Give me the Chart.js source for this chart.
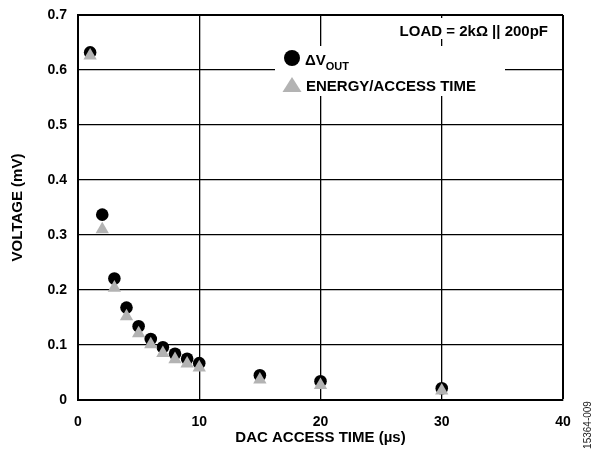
<!DOCTYPE html>
<html>
<head>
<meta charset="utf-8">
<script src="https://cdn.jsdelivr.net/npm/chart.js@4.4.1/dist/chart.umd.min.js"></script>
<style>
  html, body { margin: 0; padding: 0; background: #fff; }
</style>
</head>
<body>
<canvas id="chartAccess" width="600" height="450"></canvas>
<script>
// access time (µs) and the two measured curves (mV)
const accessTimes = [1, 2, 3, 4, 5, 6, 7, 8, 9, 10, 15, 20, 30];
const deltaVout = [0.632, 0.337, 0.221, 0.168, 0.134, 0.111, 0.096, 0.084, 0.075, 0.067, 0.045, 0.034, 0.0215];
const energyPerAccess = [0.626, 0.31, 0.204, 0.152, 0.121, 0.101, 0.085, 0.074, 0.066, 0.059, 0.037, 0.027, 0.017];
const xTicks = [0, 10, 20, 30, 40];
const yTicks = [0, 0.1, 0.2, 0.3, 0.4, 0.5, 0.6, 0.7];

const FONT = "'Liberation Sans', Arial, Helvetica, sans-serif";
const GREY = "#b3b3b3";

function toPoints(values) {
  return accessTimes.map((t, i) => ({ x: t, y: values[i] }));
}

// white legend panels with the load note, drawn over the grid
const legendPanel = {
  id: "legendPanel",
  afterDraw(chart) {
    const { ctx, chartArea: a } = chart;
    ctx.save();
    ctx.fillStyle = "#fff";
    ctx.fillRect(a.left + 307, a.top + 3, 172, 21);
    ctx.fillRect(a.left + 197, a.top + 31, 230, 50);

    ctx.fillStyle = "#000";
    ctx.font = "bold 15px " + FONT;
    ctx.textAlign = "right";
    ctx.textBaseline = "alphabetic";
    ctx.fillText("LOAD = 2kΩ || 200pF", a.left + 470, a.top + 21);

    // circle entry
    const lx = a.left + 214;
    ctx.beginPath();
    ctx.arc(lx, a.top + 43, 8, 0, Math.PI * 2);
    ctx.fill();
    ctx.textAlign = "left";
    ctx.font = "bold 15px " + FONT;
    ctx.fillText("ΔV", a.left + 227, a.top + 50);
    const w = ctx.measureText("ΔV").width;
    ctx.font = "bold 11px " + FONT;
    ctx.fillText("OUT", a.left + 227 + w, a.top + 55);

    // triangle entry
    ctx.fillStyle = GREY;
    ctx.beginPath();
    ctx.moveTo(lx, a.top + 62);
    ctx.lineTo(lx + 9.5, a.top + 77);
    ctx.lineTo(lx - 9.5, a.top + 77);
    ctx.closePath();
    ctx.fill();
    ctx.fillStyle = "#000";
    ctx.font = "bold 15px " + FONT;
    ctx.fillText("ENERGY/ACCESS TIME", a.left + 228, a.top + 76);

    // figure number on the right margin
    ctx.translate(588, 425);
    ctx.rotate(-Math.PI / 2);
    ctx.font = "10px " + FONT;
    ctx.textAlign = "center";
    ctx.textBaseline = "middle";
    ctx.fillStyle = "#222";
    ctx.fillText("15364-009", 0, 0);
    ctx.restore();
  }
};

function edgeWidth(scaleMax) {
  return (c) => (c.tick && c.tick.value === scaleMax ? 2 : 1.3);
}

new Chart(document.getElementById("chartAccess"), {
  type: "scatter",
  data: {
    datasets: [
      {
        label: "ΔVOUT",
        data: toPoints(deltaVout),
        pointStyle: "circle",
        pointRadius: 6.3,
        pointBorderWidth: 0,
        backgroundColor: "#000",
        borderColor: "#000",
        order: 1
      },
      {
        label: "ENERGY/ACCESS TIME",
        data: toPoints(energyPerAccess),
        pointStyle: "triangle",
        pointRadius: 7.7,
        pointBorderWidth: 0,
        backgroundColor: GREY,
        borderColor: GREY,
        order: 0
      }
    ]
  },
  options: {
    responsive: false,
    animation: false,
    layout: { padding: { top: 15, right: 37, bottom: 0, left: 0 } },
    plugins: {
      legend: { display: false },
      tooltip: { enabled: false }
    },
    scales: {
      x: {
        type: "linear",
        min: 0,
        max: 40,
        afterBuildTicks: (s) => { s.ticks = xTicks.map((v) => ({ value: v })); },
        afterFit: (s) => { s.height = 50; },
        ticks: { color: "#000", padding: 14, font: { family: FONT, size: 14, weight: "bold" } },
        grid: { color: "#000", lineWidth: edgeWidth(40), drawTicks: false },
        border: { color: "#000", width: 2 },
        title: {
          display: true,
          text: "DAC ACCESS TIME (µs)",
          color: "#000",
          font: { family: FONT, size: 15, weight: "bold" },
          padding: { top: 0, bottom: 3 }
        }
      },
      y: {
        type: "linear",
        min: 0,
        max: 0.7,
        afterBuildTicks: (s) => { s.ticks = yTicks.map((v) => ({ value: v })); },
        afterFit: (s) => {
          s.width = 78;
          s.paddingTop = 0;
          s.paddingBottom = 0;
        },
        ticks: {
          color: "#000",
          padding: 11,
          font: { family: FONT, size: 14, weight: "bold" },
          callback: (v) => (v === 0 ? "0" : v.toFixed(1))
        },
        grid: { color: "#000", lineWidth: edgeWidth(0.7), drawTicks: false },
        border: { color: "#000", width: 2 },
        title: {
          display: true,
          text: "VOLTAGE (mV)",
          color: "#000",
          font: { family: FONT, size: 15, weight: "bold" },
          padding: { top: 9, bottom: 0 }
        }
      }
    }
  },
  plugins: [legendPanel]
});
</script>
</body>
</html>
